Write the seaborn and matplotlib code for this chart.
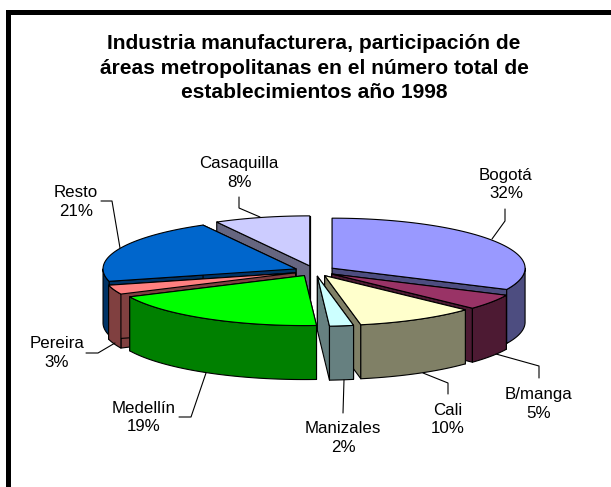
import numpy as np
import seaborn as sns
import matplotlib.pyplot as plt

## Data, clockwise from 12 o'clock
ciudades = ["Bogotá", "B/manga", "Cali", "Manizales", "Medellín", "Pereira", "Resto", "Casaquilla"]
porcentajes = [32, 5, 10, 2, 19, 3, 21, 8]
colores = ["#9999FF", "#993366", "#FFFFCC", "#CCFFFF", "#00FF00", "#FF8080", "#0066CC", "#CCCCFF"]
titulo = "Industria manufacturera, participación de\náreas metropolitanas en el número total de\nestablecimientos año 1998"

## Layout in pixels
cx, cy, rx, ry = 314.8, 271, 193, 50
depth = 54
explode = 0.106
orden = [7, 0, 6, 5, 1, 4, 2, 3]  # back to front
pos_label = [(506, 184.5), (539, 404), (448, 419.5), (343, 438), (144, 417.5), (57, 353), (76, 202), (239, 173)]
leaders = [
    [(505, 209), (505, 221), (492, 239)],
    [(539, 378), (539, 366), (496, 354)],
    [(448, 394), (448, 383), (423, 373)],
    [(343, 413), (344, 380)],
    [(179, 417), (191, 417), (206, 373)],
    [(86, 353), (98, 353), (115, 343)],
    [(101, 201), (112, 201), (120, 248)],
    [(239, 197), (239, 208), (260, 217)],
]

sns.set_theme(style="white")
plt.rcParams["font.family"] = ["Liberation Sans", "DejaVu Sans"]

fig = plt.figure(figsize=(6.11, 4.87), dpi=100)
ax = fig.add_axes([0, 0, 1, 1])
ax.set_xlim(0, 611)
ax.set_ylim(487, 0)
ax.axis("off")

# thick frame, only left and top fall inside the picture
ax.fill([5.5, 611, 611, 11, 11, 5.5], [9.5, 9.5, 15, 15, 487, 487], color="black", lw=0)

shares = np.array(porcentajes) / sum(porcentajes)
ini = np.concatenate([[0], np.cumsum(shares)[:-1]]) * 2 * np.pi
fin = np.cumsum(shares) * 2 * np.pi
paleta = sns.color_palette(colores)


def punto(a, t):
    return a[0] + rx * np.sin(t), a[1] - ry * np.cos(t)


for i in orden:
    medio = (ini[i] + fin[i]) / 2
    apice = (cx + explode * rx * np.sin(medio), cy - explode * ry * np.cos(medio))
    top = paleta[i]
    lado = tuple(c / 2 for c in top)
    kw = dict(edgecolor="black", lw=0.8, joinstyle="round")

    # the two cut faces
    for t in (ini[i], fin[i]):
        x, y = punto(apice, t)
        ax.fill([apice[0], x, x, apice[0]], [apice[1], y, y + depth, apice[1] + depth], facecolor=lado, **kw)

    # outer rim, front half only
    t0, t1 = max(ini[i], np.pi / 2), min(fin[i], 3 * np.pi / 2)
    if t1 > t0:
        ts = np.linspace(t0, t1, 60)
        x, y = punto(apice, ts)
        ax.fill(np.r_[x, x[::-1]], np.r_[y, y[::-1] + depth], facecolor=lado, **kw)

    # top surface
    ts = np.linspace(ini[i], fin[i], 120)
    x, y = punto(apice, ts)
    ax.fill(np.r_[apice[0], x], np.r_[apice[1], y], facecolor=top, **kw)

for i, nombre in enumerate(ciudades):
    ax.text(pos_label[i][0], pos_label[i][1], f"{nombre}\n{porcentajes[i]}%", ha="center", va="center",
            fontsize=12.2, color="black", linespacing=1.3)
    xs, ys = zip(*leaders[i])
    ax.plot(xs, ys, color="black", lw=0.8)

ax.text(314, 68, titulo, ha="center", va="center", fontsize=15.1, fontweight="bold", color="black", linespacing=1.36)

fig.savefig("out.png", dpi=100)
